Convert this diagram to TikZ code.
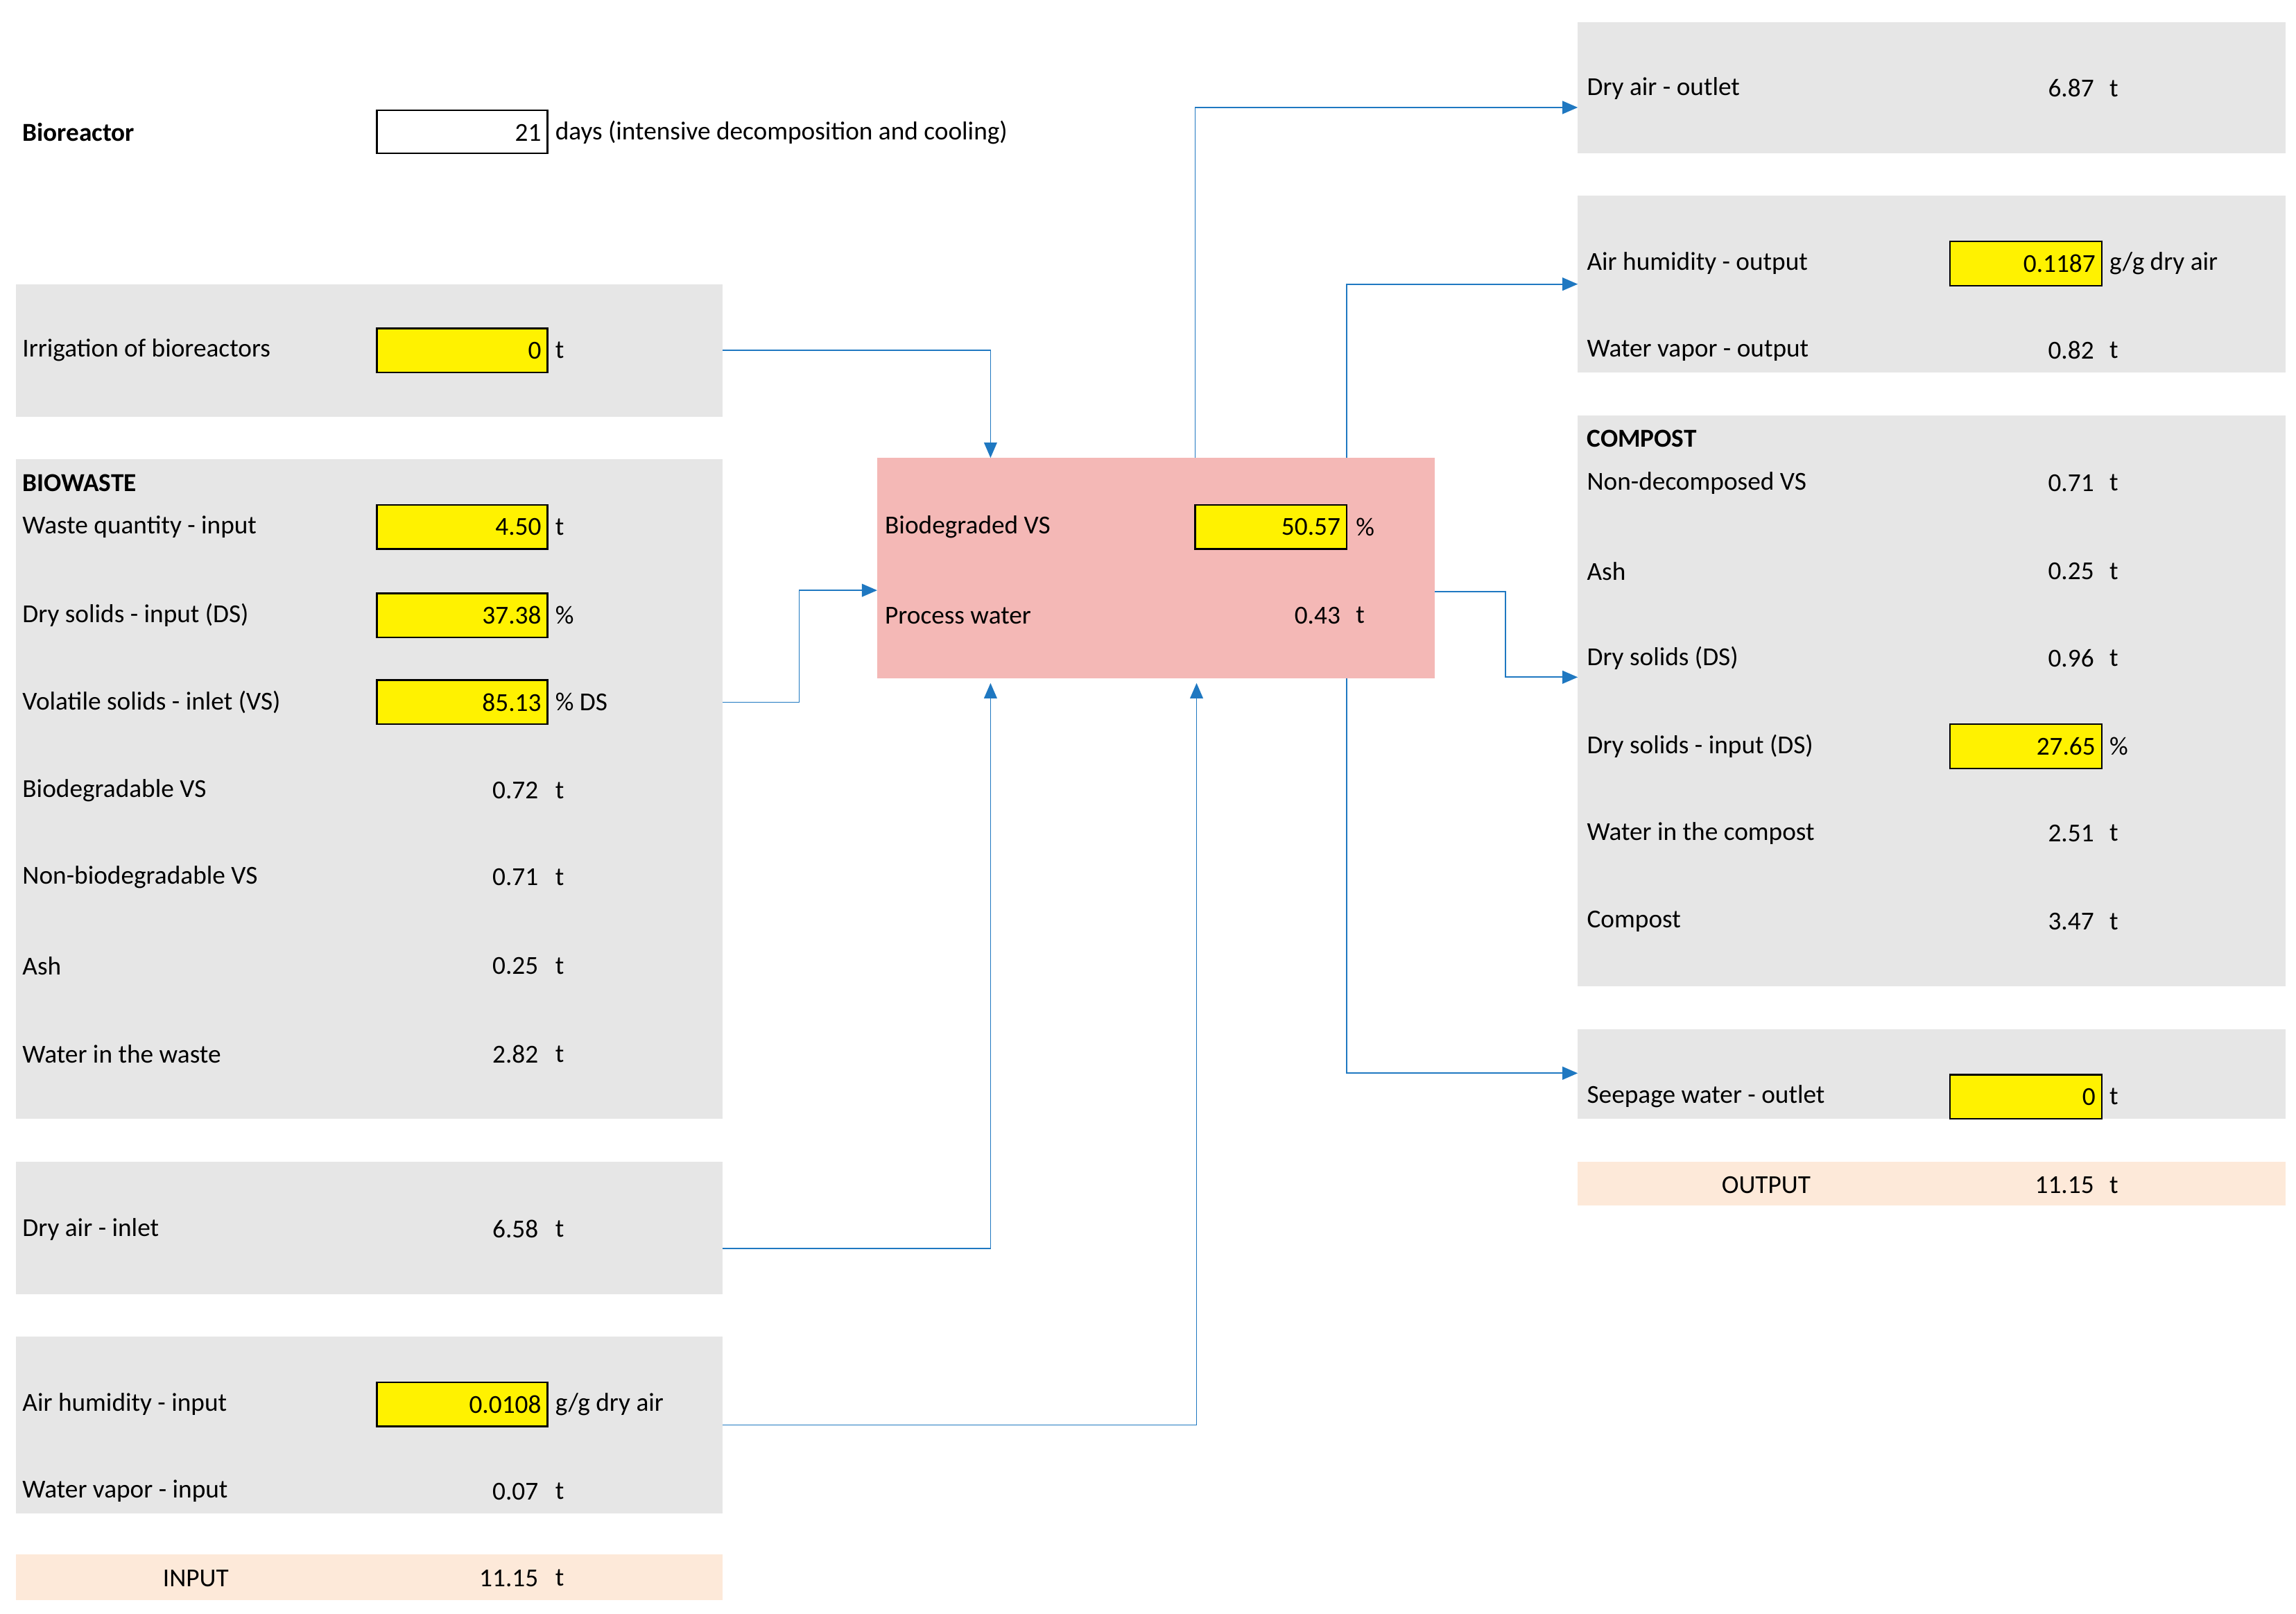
\documentclass[tikz,border=0pt]{standalone}
\usepackage{fontspec}
\setmainfont{Carlito}
\usetikzlibrary{arrows.meta}

\definecolor{panelgrey}{HTML}{E6E6E6}
\definecolor{peach}{HTML}{FDE9D9}
\definecolor{reactpink}{HTML}{F4B8B6}
\definecolor{flowblue}{HTML}{1F78C1}

\tikzset{
	lbl/.style={anchor=west, inner sep=0pt},
	val/.style={anchor=east, inner sep=0pt},
	ybox/.style={draw=black, fill=yellow, thick},
	flow/.style={draw=flowblue, semithick, -{Triangle[width=2.2mm,length=2.6mm]}},
}
% row: x of label, x of value end, x of unit, y, label, value, unit
\newcommand{\datarow}[8]{%
	\node[lbl] (#1l) at (#2,#5) {#6};
	\node[val] (#1v) at (#3,#5) {#7};
	\node[lbl] (#1u) at (#4,#5) {#8};}
% yellow cell: name, x1, x2, y, value
\newcommand{\ycell}[5]{%
	\filldraw[ybox] (#2,#4-15) rectangle (#3,#4+15);
	\node[val] (#1) at (#3-4,#4) {#5};}

\begin{document}
\begin{tikzpicture}[x=0.25mm, y=-0.25mm, font=\fontsize{12.5}{14}\selectfont]
	\useasboundingbox (0,0) rectangle (1560,1096);
	% panels
	\fill[panelgrey] (11,193) rectangle (491,283);
	\fill[panelgrey] (11,312) rectangle (491,760);
	\fill[panelgrey] (11,789) rectangle (491,879);
	\fill[panelgrey] (11,908) rectangle (491,1028);
	\fill[peach] (11,1056) rectangle (491,1087);
	\fill[reactpink] (596,311) rectangle (975,461);
	\fill[panelgrey] (1072,15) rectangle (1553,104);
	\fill[panelgrey] (1072,133) rectangle (1553,253);
	\fill[panelgrey] (1072,282) rectangle (1553,670);
	\fill[panelgrey] (1072,699) rectangle (1553,760);
	\fill[peach] (1072,789) rectangle (1553,819);

	% header
	\node[lbl, font=\fontsize{12.5}{14}\selectfont\bfseries] (title) at (15,90) {Bioreactor};
	\draw[thick, fill=white] (256,75) rectangle (372,104);
	\node[val] (days) at (368,90) {21};
	\node[lbl] (daystxt) at (377,90) {days (intensive decomposition and cooling)};

	% left side
	\ycell{irrv}{256}{372}{238}{0}
	\datarow{irr}{15}{368}{377}{238}{Irrigation of bioreactors}{}{t}
	\node[lbl, font=\fontsize{12.5}{14}\selectfont\bfseries] (bw) at (15,328) {BIOWASTE};
	\ycell{wqv}{256}{372}{358}{4.50}
	\datarow{wq}{15}{368}{377}{358}{Waste quantity - input}{}{t}
	\ycell{dsv}{256}{372}{418}{37.38}
	\datarow{ds}{15}{368}{377}{418}{Dry solids - input (DS)}{}{\%}
	\ycell{vsv}{256}{372}{477}{85.13}
	\datarow{vs}{15}{368}{377}{477}{Volatile solids - inlet (VS)}{}{\% DS}
	\datarow{bvs}{15}{366}{377}{537}{Biodegradable VS}{0.72}{t}
	\datarow{nvs}{15}{366}{377}{596}{Non-biodegradable VS}{0.71}{t}
	\datarow{ash}{15}{366}{377}{656}{Ash}{0.25}{t}
	\datarow{ww}{15}{366}{377}{716}{Water in the waste}{2.82}{t}
	\datarow{dai}{15}{366}{377}{835}{Dry air - inlet}{6.58}{t}
	\ycell{ahiv}{256}{372}{954}{0.0108}
	\datarow{ahi}{15}{368}{377}{954}{Air humidity - input}{}{g/g dry air}
	\datarow{wvi}{15}{366}{377}{1013}{Water vapor - input}{0.07}{t}
	\node (inp) at (133,1072) {INPUT};
	\datarow{inpt}{300}{366}{377}{1072}{}{11.15}{t}

	% reactor
	\ycell{bdv}{812}{915}{358}{50.57}
	\datarow{bd}{601}{911}{921}{358}{Biodegraded VS}{}{\%}
	\datarow{pw}{601}{911}{921}{418}{Process water}{0.43}{t}

	% right side
	\datarow{dao}{1078}{1423}{1433}{60}{Dry air - outlet}{6.87}{t}
	\ycell{ahov}{1325}{1428}{179}{0.1187}
	\datarow{aho}{1078}{1424}{1433}{179}{Air humidity - output}{}{g/g dry air}
	\datarow{wvo}{1078}{1423}{1433}{238}{Water vapor - output}{0.82}{t}
	\node[lbl, font=\fontsize{12.5}{14}\selectfont\bfseries] (cp) at (1078,298) {COMPOST};
	\datarow{ndv}{1078}{1423}{1433}{328}{Non-decomposed VS}{0.71}{t}
	\datarow{cash}{1078}{1423}{1433}{388}{Ash}{0.25}{t}
	\datarow{cds}{1078}{1423}{1433}{447}{Dry solids (DS)}{0.96}{t}
	\ycell{cdiv}{1325}{1428}{507}{27.65}
	\datarow{cdi}{1078}{1424}{1433}{507}{Dry solids - input (DS)}{}{\%}
	\datarow{cw}{1078}{1423}{1433}{566}{Water in the compost}{2.51}{t}
	\datarow{cc}{1078}{1423}{1433}{626}{Compost}{3.47}{t}
	\ycell{swv}{1325}{1428}{745}{0}
	\datarow{sw}{1078}{1424}{1433}{745}{Seepage water - outlet}{}{t}
	\node (outp) at (1200,805) {OUTPUT};
	\datarow{outpt}{1300}{1423}{1433}{805}{}{11.15}{t}

	% connector points
	\coordinate (irrout) at (491,238);
	\coordinate (bwout) at (491,477);
	\coordinate (daout) at (491,848);
	\coordinate (ahout) at (491,968);
	\coordinate (rtopA) at (673,311);
	\coordinate (rleft) at (596,401);
	\coordinate (rbotA) at (673,464);
	\coordinate (rbotB) at (813,464);
	\coordinate (rtopB) at (812,311);
	\coordinate (rtopC) at (915,311);
	\coordinate (rright) at (975,402);
	\coordinate (rbotC) at (915,461);
	\coordinate (daoin) at (1072,73);
	\coordinate (ahoin) at (1072,193);
	\coordinate (cpin) at (1072,460);
	\coordinate (swin) at (1072,729);

	% flows
	\draw[flow] (irrout) -| (rtopA);
	\draw[flow] (bwout) -- (543,477) |- (rleft);
	\draw[flow] (daout) -| (rbotA);
	\draw[flow] (ahout) -| (rbotB);
	\draw[flow] (rtopB) |- (daoin);
	\draw[flow] (rtopC) |- (ahoin);
	\draw[flow] (rright) -- (1023,402) |- (cpin);
	\draw[flow] (rbotC) |- (swin);
\end{tikzpicture}
\end{document}
